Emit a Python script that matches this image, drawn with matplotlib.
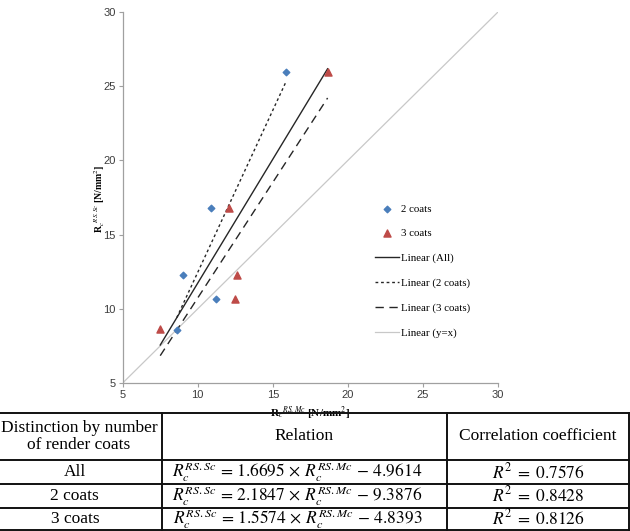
import numpy as np
import matplotlib
matplotlib.use("Agg")
import matplotlib.pyplot as plt

# data
x_2coats = [15.85, 10.9, 9.05, 11.2, 8.6]
y_2coats = [25.95, 16.8, 12.3, 10.65, 8.6]
x_3coats = [18.65, 12.05, 12.6, 12.5, 7.5]
y_3coats = [25.95, 16.8, 12.3, 10.65, 8.65]

# regression lines (slope, intercept) from the table
fit_names = ["All", "2 coats", "3 coats"]
fit_slopes = [1.6695, 2.1847, 1.5574]
fit_intercepts = [-4.9614, -9.3876, -4.8393]
fit_r2 = [0.7576, 0.8428, 0.8126]

axis_ticks = [5, 10, 15, 20, 25, 30]

plt.rcParams['mathtext.fontset'] = 'stix'
W, H = 630, 531
fig = plt.figure(figsize=(W / 100, H / 100), dpi=100)

ax = fig.add_axes([122.7 / W, 1 - 383 / H, (498 - 122.7) / W, (383 - 12) / H])

# y = x line
ax.plot([axis_ticks[0], axis_ticks[-1]], [axis_ticks[0], axis_ticks[-1]],
        color="#c8c8c8", lw=0.9, label="Linear (y=x)", zorder=1)

all_x = np.array(x_2coats + x_3coats)
ranges = [(all_x.min(), all_x.max()),
          (min(x_2coats), max(x_2coats)),
          (min(x_3coats), max(x_3coats))]
styles = [dict(color="#262626", lw=1.0, ls="-"),
          dict(color="#262626", lw=1.0, ls=(0, (2, 2))),
          dict(color="#262626", lw=1.0, ls=(0, (6, 4)))]
for name, a, b, (x0, x1), st in zip(fit_names, fit_slopes, fit_intercepts, ranges, styles):
    xx = np.array([x0, x1])
    ax.plot(xx, a * xx + b, label="Linear (%s)" % name, zorder=2, **st)

ax.scatter(x_2coats, y_2coats, marker="D", s=11, color="#4a7ebb", zorder=3, label="2 coats")
ax.scatter(x_3coats, y_3coats, marker="^", s=26, color="#be4b48", zorder=3, label="3 coats")

ax.set_xlim(axis_ticks[0], axis_ticks[-1])
ax.set_ylim(axis_ticks[0], axis_ticks[-1])
ax.set_xticks(axis_ticks)
ax.set_yticks(axis_ticks)
for s in ["top", "right"]:
    ax.spines[s].set_visible(False)
for s in ["left", "bottom"]:
    ax.spines[s].set_color("#a0a0a0")
    ax.spines[s].set_linewidth(0.9)
ax.tick_params(colors="#a0a0a0", labelcolor="#3c3c3c", labelsize=8, length=3, width=0.8, pad=2)
for t in ax.get_xticklabels() + ax.get_yticklabels():
    t.set_family("Liberation Sans")

ax.set_xlabel(r"R$_c$$^{RS.Mc}$ [N/mm$^2$]", family="Liberation Serif",
              fontsize=8, fontweight="bold")
ax.set_ylabel(r"R$_c$$^{RS.Sc}$ [N/mm$^2$]", family="Liberation Serif",
              fontsize=7, fontweight="bold")
ax.xaxis.set_label_coords(0.5, -0.06)
ax.yaxis.set_label_coords(-0.042, 0.496)

h, l = ax.get_legend_handles_labels()
order = ["2 coats", "3 coats", "Linear (All)", "Linear (2 coats)", "Linear (3 coats)", "Linear (y=x)"]
hd = dict(zip(l, h))
leg = fig.legend([hd[k] for k in order], order, loc="upper left",
                 bbox_to_anchor=(375 / W, 1 - 204 / H), frameon=False,
                 prop=dict(family="Liberation Serif", size=7.8),
                 handlelength=2.2, handletextpad=0.2, labelspacing=1.4,
                 borderpad=0, borderaxespad=0, scatterpoints=1)

# table below the chart, drawn in pixel coordinates
tax = fig.add_axes([0, 0, 1, 1])
tax.set_xlim(0, W)
tax.set_ylim(H, 0)
tax.axis("off")
rows_y = [413, 460, 484, 507.5, 530]
cols_x = [-12, 161.7, 447.3, 629]
for yy in rows_y:
    tax.plot([cols_x[0], cols_x[-1]], [yy, yy], color="#111111", lw=1.4)
for xx in cols_x:
    tax.plot([xx, xx], [rows_y[0], rows_y[-1]], color="#111111", lw=1.4)

cx = [(cols_x[i] + cols_x[i + 1]) / 2 for i in range(3)]
tf = dict(family="Liberation Serif", fontsize=12.5, ha="center", va="center")
mf = dict(fontsize=12.5, ha="center", va="center")
hy = (rows_y[0] + rows_y[1]) / 2
tax.text(cx[0] + 4, hy, "Distinction by number\nof render coats", linespacing=1.15, **tf)
tax.text(cx[1], hy, "Relation", **tf)
tax.text(cx[2], hy, "Correlation coefficient", **tf)
for i, (name, a, b, r2) in enumerate(zip(fit_names, fit_slopes, fit_intercepts, fit_r2)):
    yy = (rows_y[i + 1] + rows_y[i + 2]) / 2
    tax.text(cx[0], yy, name, **tf)
    eq = r"$R_c^{RS.Sc}\,=\,%.4f\,\times\,R_c^{RS.Mc}\,-\,%.4f$" % (a, -b)
    tax.text(cx[1] - 7, yy, eq, **mf)
    tax.text(cx[2], yy, r"$R^2\;=\;%.4f$" % r2, **mf)

fig.savefig("out.png", dpi=100)
plt.close()
